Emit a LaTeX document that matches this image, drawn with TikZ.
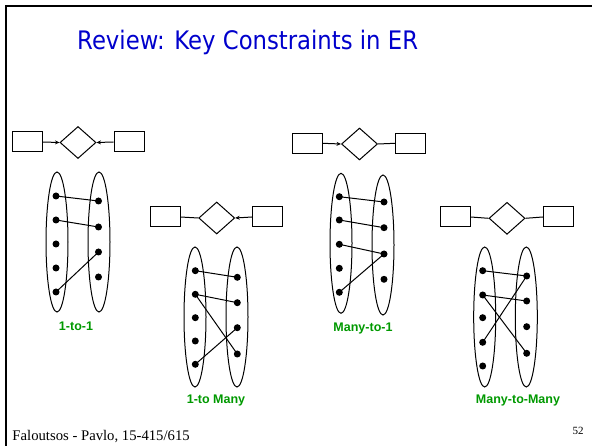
\documentclass[tikz,border=0pt]{standalone}
\usepackage{fontspec}
\setmainfont{Liberation Serif}
\newfontfamily\titlefont{DejaVu Sans}
\newfontfamily\labfont{Liberation Sans}
\usetikzlibrary{shapes.geometric,arrows.meta}
\definecolor{titleblue}{RGB}{0,0,204}
\definecolor{labgreen}{RGB}{0,153,0}
\tikzset{
  ent/.style={draw,line width=1pt,minimum width=30pt,minimum height=20pt,inner sep=0pt},
  rel/.style={draw,diamond,line width=1pt,minimum width=36pt,minimum height=32pt,inner sep=0pt},
  set/.style={draw,ellipse,line width=1pt,minimum width=22pt,minimum height=140pt,inner sep=0pt},
  dot/.style={circle,fill=black,minimum size=7pt,inner sep=0pt},
  conn/.style={line width=1pt},
  arr/.style={line width=1pt,-{Stealth[length=4.5pt,width=4pt]}},
  map/.style={line width=1pt},
  lab/.style={font=\labfont\bfseries\fontsize{12.5}{14}\selectfont,text=labgreen,inner sep=0pt}
}
\begin{document}
\begin{tikzpicture}[x=1pt,y=-1pt]
\useasboundingbox (0,0) rectangle (592,446);
% frame
\draw[line width=2pt] (6,446) -- (6,6) -- (592,6);
% title
\node[anchor=base west,inner sep=0pt,text=titleblue] (title) at (77,50)
  {\scalebox{0.892}[1]{\titlefont\fontsize{25.5}{30}\selectfont Review: Key Constraints in ER}};

% ===== Diagram 1: 1-to-1 =====
\node[ent] (e1a) at (27,142) {};
\node[rel] (r1) at (78,142.5) {};
\node[ent] (e1b) at (129,142) {};
\draw[arr] (e1a.east) -- (r1.west);
\draw[arr] (e1b.west) -- (r1.east);
\node[set] (s1a) at (57,242) {};
\node[set] (s1b) at (99,242) {};
\node[dot] (a1) at (56,196) {};
\node[dot] (a2) at (56,220) {};
\node[dot] (a3) at (56,244) {};
\node[dot] (a4) at (56,268) {};
\node[dot] (a5) at (56,292) {};
\node[dot] (b1) at (98.5,201) {};
\node[dot] (b2) at (98.5,227) {};
\node[dot] (b3) at (98.5,252) {};
\node[dot] (b4) at (98.5,277) {};
\draw[map] (a1.center) -- (b1.center);
\draw[map] (a2.center) -- (b2.center);
\draw[map] (a5.center) -- (b3.center);
\node[lab] (l1) at (76,326.5) {1-to-1};

% ===== Diagram 2: 1-to Many =====
\node[ent] (e2a) at (165,217) {};
\node[rel] (r2) at (216.7,218) {};
\node[ent] (e2b) at (267.5,217) {};
\draw[conn] (e2a.east) -- (r2.west);
\draw[arr] (e2b.west) -- (r2.east);
\node[set] (s2a) at (195,317) {};
\node[set] (s2b) at (237,317) {};
\node[dot] (c1) at (195.3,270.7) {};
\node[dot] (c2) at (195.3,294.3) {};
\node[dot] (c3) at (195.3,317.7) {};
\node[dot] (c4) at (195.3,341) {};
\node[dot] (c5) at (195.3,364.3) {};
\node[dot] (d1) at (237.3,277.3) {};
\node[dot] (d2) at (237.3,302.7) {};
\node[dot] (d3) at (237.3,327.7) {};
\node[dot] (d4) at (237.3,354) {};
\draw[map] (c1.center) -- (d1.center);
\draw[map] (c2.center) -- (d2.center);
\draw[map] (c2.center) -- (d4.center);
\draw[map] (c5.center) -- (d3.center);
\node[lab] (l2) at (216,400.5) {1-to Many};

% ===== Diagram 3: Many-to-1 =====
\node[ent] (e3a) at (307.5,143.3) {};
\node[rel] (r3) at (359.5,144) {};
\node[ent] (e3b) at (410.3,143.3) {};
\draw[arr] (e3a.east) -- (r3.west);
\draw[conn] (e3b.west) -- (r3.east);
\node[set] (s3a) at (341,243.3) {};
\node[set] (s3b) at (383,245) {};
\node[dot] (f1) at (339.3,196.7) {};
\node[dot] (f2) at (339.3,220) {};
\node[dot] (f3) at (339.3,244.3) {};
\node[dot] (f4) at (339.3,268.3) {};
\node[dot] (f5) at (339.3,292.3) {};
\node[dot] (g1) at (384,202) {};
\node[dot] (g2) at (384,227.7) {};
\node[dot] (g3) at (384,254) {};
\node[dot] (g4) at (384,279.3) {};
\draw[map] (f1.center) -- (g1.center);
\draw[map] (f2.center) -- (g2.center);
\draw[map] (f3.center) -- (g3.center);
\draw[map] (f5.center) -- (g3.center);
\node[lab] (l3) at (363,328) {Many-to-1};

% ===== Diagram 4: Many-to-Many =====
\node[ent] (e4a) at (455.3,217) {};
\node[rel] (r4) at (507,218.3) {};
\node[ent] (e4b) at (558.3,217) {};
\draw[conn] (e4a.east) -- (r4.west);
\draw[conn] (e4b.west) -- (r4.east);
\node[set] (s4a) at (484.7,317) {};
\node[set] (s4b) at (526.3,317) {};
\node[dot] (h1) at (482.7,270.7) {};
\node[dot] (h2) at (482.7,295) {};
\node[dot] (h3) at (482.7,317.7) {};
\node[dot] (h4) at (482.7,342.3) {};
\node[dot] (h5) at (482.7,366) {};
\node[dot] (k1) at (526.7,276) {};
\node[dot] (k2) at (526.7,301) {};
\node[dot] (k3) at (526.7,326.7) {};
\node[dot] (k4) at (526.7,353.3) {};
\draw[map] (h1.center) -- (k1.center);
\draw[map] (h2.center) -- (k2.center);
\draw[map] (h2.center) -- (k4.center);
\draw[map] (h4.center) -- (k1.center);
\node[lab] (l4) at (518,400.5) {Many-to-Many};

% footer
\node[anchor=base west,inner sep=0pt] (foot) at (12.3,440.5)
  {\fontsize{14.7}{17}\selectfont Faloutsos - Pavlo, 15-415/615};
\node[anchor=base west,inner sep=0pt] (pg) at (572.3,435)
  {\fontsize{11}{13}\selectfont 52};
\end{tikzpicture}
\end{document}
